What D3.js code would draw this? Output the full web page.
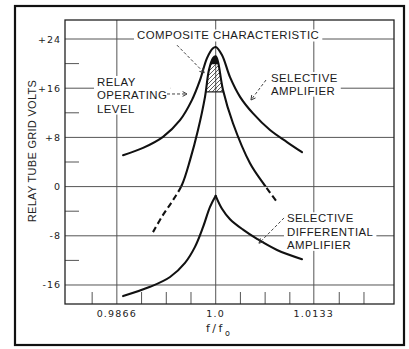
<!DOCTYPE html>
<html><head><meta charset="utf-8">
<script src="https://cdn.jsdelivr.net/npm/d3@7"></script>
<style>body{margin:0;background:#fff} svg{display:block}</style>
</head><body>
<svg id="chart" width="409" height="349"></svg>
<script>
// ---- data (f/f0 vs relay tube grid volts) ----
const selectiveF = [0.98744, 0.99015, 0.99286, 0.99516, 0.99679, 0.99787, 0.99882, 0.99963, 1.0, 1.00085, 1.00194, 1.00330, 1.00506, 1.00736, 1.00966, 1.01170];
const selectiveV = [5.1, 6.3, 8.1, 10.8, 14.1, 17.3, 20.9, 22.5, 22.7, 21.4, 17.8, 14.6, 11.9, 9.2, 7.25, 5.6];
const compositeF = [0.99150, 0.99286, 0.99421, 0.99543, 0.99652, 0.99760, 0.99855, 0.99909, 0.99963, 1.0, 1.00031, 1.00099, 1.00234, 1.00465, 1.00641, 1.00844];
const compositeV = [-7.4, -4.6, -2.2, 0.3, 4.3, 9.2, 14.6, 19.0, 20.9, 21.2, 20.3, 15.7, 10.3, 3.8, 0.6, -2.7];
const differentialF = [0.98745, 0.99111, 0.99381, 0.99584, 0.99719, 0.99828, 0.99923, 1.0, 1.00085, 1.00194, 1.0037, 1.0056, 1.00831, 1.0117];
const differentialV = [-17.8, -16.3, -14.7, -12.4, -9.8, -6.6, -3.3, -1.5, -3.6, -5.3, -7.0, -8.5, -10.3, -11.8];
const relayLevel = 15.4;
const tipLevel = 19.9;

const yMajorTicks = [24, 16, 8, 0, -8, -16];
const yTickLabels = ["+24", "+16", "+8", "0", "-8", "-16"];
const yMinorTicks = [20, 12, 4, -4, -12];
const xMajorTicks = [0.9866, 1.0, 1.0133];
const xTickLabels = ["0.9866", "1.0", "1.0133"];
const xMinorTicks = [0.98325, 0.98995, 0.9933, 0.99665, 1.00335, 1.0067, 1.01005, 1.01675, 1.0201];

const svg = d3.select("#chart");
const W = 409, H = 349;
const x = d3.scaleLinear().domain([0.97957, 1.02417]).range([65, 394]);
const y = d3.scaleLinear().domain([27.09, -19.09]).range([20, 304]);
const toPts = (F, V) => F.map((f, i) => [f, V[i]]);

svg.append("rect").attr("width", W).attr("height", H).attr("fill", "#fff");

const defs = svg.append("defs");
const pat = defs.append("pattern").attr("id", "hatch").attr("patternUnits", "userSpaceOnUse")
  .attr("width", 4).attr("height", 4);
pat.append("path").attr("d", "M-1,1 l2,-2 M0,4 l4,-4 M3,5 l2,-2")
  .attr("stroke", "#333").attr("stroke-width", 0.8);

const line = d3.line().x(d => x(d[0])).y(d => y(d[1])).curve(d3.curveCatmullRom.alpha(0.5));

defs.append("clipPath").attr("id", "compClip").append("path")
  .attr("d", line(toPts(compositeF, compositeV)) + "Z");
defs.append("clipPath").attr("id", "above0").append("rect")
  .attr("x", x.range()[0]).attr("y", y.range()[0])
  .attr("width", x.range()[1] - x.range()[0]).attr("height", y(0) - y.range()[0]);
defs.append("clipPath").attr("id", "below0").append("rect")
  .attr("x", x.range()[0]).attr("y", y(0))
  .attr("width", x.range()[1] - x.range()[0]).attr("height", y.range()[1] - y(0));

const gGrid = svg.append("g");
const gMask = svg.append("g");
const gHatch = svg.append("g");
const gCurves = svg.append("g");
const gLead = svg.append("g");
const gText = svg.append("g");

const gridColor = "#555";
gGrid.selectAll(".hg").data(yMajorTicks).join("line")
  .attr("x1", x.range()[0]).attr("x2", x.range()[1])
  .attr("y1", d => y(d)).attr("y2", d => y(d))
  .attr("stroke", gridColor).attr("stroke-width", 1);
gGrid.selectAll(".vg").data(xMajorTicks).join("line")
  .attr("x1", d => x(d)).attr("x2", d => x(d))
  .attr("y1", y.range()[0]).attr("y2", y.range()[1])
  .attr("stroke", gridColor).attr("stroke-width", 1);
gGrid.selectAll(".ym").data(yMinorTicks).join("line")
  .attr("x1", x.range()[0]).attr("x2", x.range()[0] + 14)
  .attr("y1", d => y(d)).attr("y2", d => y(d))
  .attr("stroke", gridColor).attr("stroke-width", 1);
gGrid.selectAll(".xm").data(xMinorTicks).join("line")
  .attr("x1", d => x(d)).attr("x2", d => x(d))
  .attr("y1", y.range()[1]).attr("y2", y.range()[1] - 12)
  .attr("stroke", gridColor).attr("stroke-width", 1);
svg.append("rect").attr("x", x.range()[0]).attr("y", y.range()[0])
  .attr("width", x.range()[1] - x.range()[0]).attr("height", y.range()[1] - y.range()[0])
  .attr("fill", "none").attr("stroke", "#222").attr("stroke-width", 1.3);
svg.append("rect").attr("x", 15).attr("y", 6).attr("width", 389).attr("height", 339)
  .attr("fill", "none").attr("stroke", "#111").attr("stroke-width", 2.2);

// hatched operating region
const hg = gHatch.append("g").attr("clip-path", "url(#compClip)");
hg.append("rect").attr("x", x(0.99)).attr("y", y(27))
  .attr("width", x(1.01) - x(0.99)).attr("height", y(relayLevel) - y(27))
  .attr("fill", "url(#hatch)");
hg.append("rect").attr("x", x(0.99)).attr("y", y(27))
  .attr("width", x(1.01) - x(0.99)).attr("height", y(tipLevel) - y(27))
  .attr("fill", "#111");
hg.append("line").attr("x1", x(0.99)).attr("x2", x(1.01))
  .attr("y1", y(relayLevel)).attr("y2", y(relayLevel))
  .attr("stroke", "#222").attr("stroke-width", 1.2);

// curves
const curveStyle = s => s.attr("fill", "none").attr("stroke", "#111").attr("stroke-width", 2.1)
  .attr("stroke-linecap", "round").attr("stroke-linejoin", "round");
gCurves.append("path").attr("d", line(toPts(selectiveF, selectiveV))).call(curveStyle);
gCurves.append("path").attr("d", line(toPts(compositeF, compositeV))).call(curveStyle)
  .attr("clip-path", "url(#above0)");
gCurves.append("path").attr("d", line(toPts(compositeF, compositeV))).call(curveStyle)
  .attr("stroke-linecap", "butt").attr("stroke-dasharray", "6,3.5").attr("clip-path", "url(#below0)");
const diffPts = toPts(differentialF, differentialV);
gCurves.append("path").attr("d", line(diffPts.filter(d => d[0] <= 1))).call(curveStyle);
gCurves.append("path").attr("d", line(diffPts.filter(d => d[0] >= 1))).call(curveStyle);

// leaders
const leaders = [
  [[0.99475, 23.0], [0.99844, 18.5]],
  [[0.9934, 15.06], [0.99611, 15.06]],
  [[1.00682, 17.33], [1.00478, 14.08]],
  [[1.00926, -5.1], [1.00587, -9.2]]
];
leaders.forEach(L => {
  const [x1, y1] = [x(L[0][0]), y(L[0][1])], [x2, y2] = [x(L[1][0]), y(L[1][1])];
  gLead.append("line").attr("x1", x1).attr("y1", y1).attr("x2", x2).attr("y2", y2)
    .attr("stroke", "#444").attr("stroke-width", 1).attr("stroke-dasharray", "3,2");
  const a = Math.atan2(y2 - y1, x2 - x1), len = 5, sp = 0.5;
  gLead.append("path")
    .attr("d", `M${x2 - len * Math.cos(a - sp)},${y2 - len * Math.sin(a - sp)} L${x2},${y2} L${x2 - len * Math.cos(a + sp)},${y2 - len * Math.sin(a + sp)}`)
    .attr("fill", "none").attr("stroke", "#333").attr("stroke-width", 1);
});

// tick labels
gText.selectAll(".yl").data(yMajorTicks).join("text")
  .attr("x", 61).attr("y", d => y(d)).attr("dominant-baseline", "central")
  .attr("text-anchor", "end").attr("font-family", "DejaVu Sans").attr("font-size", 9.5)
  .attr("letter-spacing", 1).attr("fill", "#222")
  .text((d, i) => yTickLabels[i]);
gText.selectAll(".xl").data(xMajorTicks).join("text")
  .attr("x", d => x(d)).attr("y", 317).attr("text-anchor", "middle")
  .attr("font-family", "DejaVu Sans").attr("font-size", 9.5).attr("letter-spacing", 1.2)
  .attr("fill", "#222").text((d, i) => xTickLabels[i]);
const ft = gText.append("text").attr("x", 206).attr("y", 332)
  .attr("font-family", "DejaVu Sans").attr("font-size", 11).attr("letter-spacing", 2.5).attr("fill", "#222");
ft.append("tspan").text("f/f");
ft.append("tspan").attr("dy", 4).attr("font-size", 8).text("o");

gText.append("text").attr("transform", "translate(36,151) rotate(-90)")
  .attr("text-anchor", "middle").attr("font-family", "Liberation Sans").attr("font-size", 11)
  .attr("letter-spacing", 0.3).attr("fill", "#222").text("RELAY TUBE GRID VOLTS");

// annotation labels (with white masks behind them)
const labels = [
  {f: 0.98933, v: 23.92, lh: 13, lines: ["COMPOSITE CHARACTERISTIC"]},
  {f: 0.98391, v: 16.36, lh: 13.3, lines: ["RELAY", "OPERATING", "LEVEL"]},
  {f: 1.0075, v: 17.0, lh: 12.6, lines: ["SELECTIVE", "AMPLIFIER"]},
  {f: 1.00966, v: -5.8, lh: 13.3, lines: ["SELECTIVE", "DIFFERENTIAL", "AMPLIFIER"]}
];
const boxes = [];
labels.forEach(L => {
  const t = gText.append("text").attr("font-family", "Liberation Sans").attr("font-size", 11.4)
    .attr("letter-spacing", 0.45).attr("fill", "#1a1a1a");
  L.lines.forEach((s, i) => t.append("tspan").attr("x", x(L.f)).attr("y", y(L.v) + i * L.lh).text(s));
  const b = t.node().getBBox();
  boxes.push(b);
  gMask.append("rect").attr("x", b.x - 3).attr("y", b.y).attr("width", b.width + 6).attr("height", b.height)
    .attr("fill", "#fff");
});
const midL = boxes[1].x + boxes[1].width + 3, midR = boxes[2].x - 3, xc = x(1.0);
[[midL, xc - 1], [xc + 1, midR]].forEach(s => {
  gMask.append("rect").attr("x", s[0]).attr("y", y(16) - 2).attr("width", s[1] - s[0]).attr("height", 4)
    .attr("fill", "#fff");
});
</script>
</body></html>
